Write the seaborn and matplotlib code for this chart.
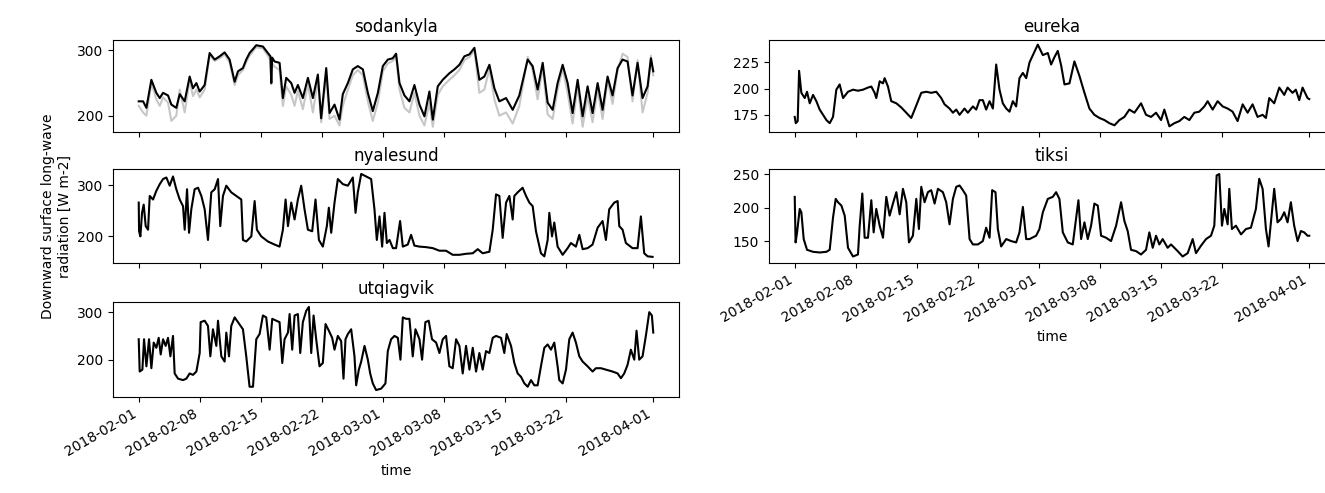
import matplotlib
matplotlib.use("Agg")
import matplotlib.pyplot as plt
import matplotlib.dates as mdates
import pandas as pd
import seaborn as sns

START = pd.Timestamp("2018-02-01")

# days since 2018-02-01 00:00 and downward long-wave radiation [W m-2]
sodankyla_days = [0.0, 0.50, 0.88, 1.45, 2.02, 2.41, 2.79, 3.36, 3.74, 4.31, 4.70, 5.27, 5.84, 6.22, 6.61, 6.99,
                  7.56, 8.13, 8.71, 9.28, 9.85, 10.42, 11.00, 11.38, 11.95, 12.33, 12.71, 13.48, 14.24, 14.81,
                  15.10, 15.20, 15.30, 15.58, 16.15, 16.53, 16.91, 17.49, 17.87, 18.25, 18.82, 19.40, 19.97,
                  20.54, 20.92, 21.50, 21.88, 22.45, 23.02, 23.40, 23.98, 24.55, 25.12, 25.70, 26.27, 26.84,
                  27.42, 27.99, 28.56, 29.13, 29.51, 29.90, 30.47, 31.04, 31.61, 32.19, 32.76, 33.33, 33.72,
                  34.29, 34.86, 35.62, 36.20, 36.77, 37.34, 37.92, 38.49, 39.06, 39.63, 40.21, 40.78, 41.35,
                  42.12, 42.88, 43.64, 44.60, 45.17, 45.74, 46.32, 46.89, 47.46, 48.03, 48.61, 49.18, 49.75,
                  50.33, 50.90, 51.47, 52.04, 52.62, 53.19, 53.76, 54.33, 54.91, 55.48, 56.05, 56.62, 57.20,
                  57.77, 58.35, 58.73, 59.00]
sodankyla_lw = [222, 222, 212, 255, 235, 227, 235, 231, 217, 212, 233, 222, 260, 242, 250, 237,
                247, 296, 286, 291, 297, 286, 252, 268, 273, 286, 296, 308, 306, 296,
                291, 250, 289, 283, 281, 227, 258, 250, 235, 247, 227, 258, 227,
                263, 196, 273, 204, 217, 194, 233, 250, 271, 276, 271, 235, 207,
                235, 276, 286, 288, 295, 250, 231, 222, 247, 217, 199, 237, 194,
                245, 255, 265, 271, 278, 291, 294, 304, 255, 260, 278, 242, 222,
                227, 209, 231, 286, 276, 240, 281, 220, 209, 250, 278, 250, 204,
                255, 199, 245, 204, 250, 209, 260, 231, 273, 286, 283, 231, 281,
                227, 245, 288, 268]
sodankyla_grey = [215, 205, 200, 250, 225, 215, 228, 220, 192, 200, 240, 205, 255, 230, 240, 228,
                  240, 292, 284, 288, 294, 282, 247, 262, 270, 282, 292, 305, 303, 292,
                  285, 248, 280, 275, 270, 215, 245, 232, 215, 238, 210, 248, 205,
                  255, 190, 262, 195, 200, 185, 215, 240, 262, 270, 262, 222, 192,
                  220, 268, 280, 284, 290, 240, 212, 205, 235, 200, 185, 220, 183,
                  232, 245, 255, 262, 270, 285, 290, 300, 235, 240, 272, 225, 200,
                  205, 188, 215, 290, 270, 225, 275, 202, 195, 240, 272, 235, 188,
                  245, 183, 230, 190, 240, 195, 255, 218, 270, 295, 290, 222, 285,
                  205, 235, 292, 262]

eureka_days = [0.0, 0.12, 0.34, 0.50, 0.76, 1.15, 1.41, 1.72, 2.10, 2.48, 2.86, 3.25, 3.63, 4.01, 4.39, 4.77,
               5.15, 5.54, 6.11, 6.68, 7.25, 7.83, 8.40, 8.78, 9.16, 9.35, 9.74, 10.12, 10.31, 10.69, 11.07,
               11.65, 12.22, 12.79, 13.36, 13.75, 14.13, 14.51, 15.08, 15.65, 16.23, 16.80, 17.18, 17.75,
               18.14, 18.52, 18.90, 19.47, 19.85, 20.43, 20.81, 21.19, 21.57, 21.95, 22.34, 22.72, 23.10,
               23.48, 23.86, 24.25, 24.63, 25.01, 25.39, 25.77, 26.16, 26.54, 26.92, 27.87, 28.45, 29.02,
               29.40, 29.78, 30.16, 30.55, 30.93, 31.50, 32.07, 32.65, 33.22, 33.79, 34.36, 34.94, 35.51,
               36.08, 36.66, 37.23, 37.80, 38.37, 38.95, 39.71, 40.28, 40.86, 41.43, 42.00, 42.38, 42.96,
               43.53, 44.10, 44.67, 45.25, 45.82, 46.39, 46.97, 47.35, 47.92, 48.49, 49.07, 49.64, 50.21,
               50.78, 51.36, 51.93, 52.50, 53.07, 53.65, 54.03, 54.41, 54.98, 55.56, 56.13, 56.51, 57.08,
               57.46, 57.85, 58.23, 58.80, 59.00]
eureka_lw = [173, 167, 169, 217, 196, 191, 197, 186, 194, 188, 180, 175, 170, 167, 173, 199,
             204, 191, 197, 199, 198, 199, 201, 202, 196, 191, 207, 205, 210, 202, 188,
             186, 182, 177, 172, 180, 188, 196, 197, 196, 197, 191, 185, 181,
             177, 180, 175, 181, 177, 183, 180, 189, 189, 180, 188, 181, 223,
             199, 186, 181, 178, 188, 183, 210, 215, 210, 225, 242, 232, 234,
             223, 230, 236, 222, 204, 205, 226, 212, 196, 181, 175, 172, 170,
             167, 165, 170, 173, 180, 177, 186, 175, 173, 177, 170, 180, 164,
             167, 169, 173, 170, 177, 178, 183, 188, 180, 188, 183, 181, 178,
             169, 185, 177, 185, 173, 175, 172, 191, 186, 201, 194, 201, 196,
             199, 189, 201, 191, 190]

nyalesund_days = [0.0, 0.04, 0.19, 0.38, 0.57, 0.80, 1.07, 1.26, 1.64, 2.02, 2.41, 2.79, 3.17, 3.55, 3.93, 4.31,
                  4.70, 5.08, 5.27, 5.54, 5.77, 6.03, 6.41, 6.80, 7.18, 7.56, 7.94, 8.32, 8.71, 9.09, 9.35,
                  9.66, 10.04, 10.61, 11.19, 11.76, 11.95, 12.33, 12.91, 13.29, 13.55, 14.05, 14.81, 15.58,
                  16.15, 16.53, 16.84, 17.11, 17.49, 17.87, 18.25, 18.63, 19.01, 19.40, 19.89, 20.27, 20.66,
                  21.11, 21.57, 21.80, 22.07, 22.45, 22.83, 23.41, 23.98, 24.55, 24.86, 25.12, 25.51, 26.08,
                  26.65, 27.03, 27.30, 27.61, 27.91, 28.18, 28.45, 28.76, 29.14, 29.51, 29.97, 30.28, 30.85,
                  31.23, 31.61, 32.19, 32.95, 33.72, 34.48, 35.24, 36.00, 36.77, 37.53, 38.30, 38.87, 39.44,
                  40.21, 40.59, 40.97, 41.35, 41.73, 42.12, 42.50, 42.88, 43.07, 43.45, 44.02, 44.41, 44.79,
                  45.17, 45.55, 46.12, 46.51, 46.89, 47.08, 47.39, 47.65, 48.03, 48.61, 49.18, 49.56, 50.13,
                  50.52, 50.90, 51.47, 52.04, 52.62, 53.19, 53.57, 53.95, 54.53, 54.91, 55.10, 55.48, 55.86,
                  56.62, 57.20, 57.58, 57.96, 58.35, 58.92]
nyalesund_lw = [266, 210, 200, 246, 262, 220, 213, 279, 272, 289, 302, 312, 315, 299, 317, 292,
                272, 259, 213, 292, 207, 253, 292, 295, 279, 253, 193, 286, 292, 312, 220,
                279, 299, 286, 279, 272, 193, 190, 200, 269, 213, 200, 190, 184,
                180, 213, 272, 220, 266, 233, 272, 299, 253, 213, 210, 272, 193,
                180, 220, 256, 207, 266, 312, 302, 299, 315, 246, 286, 322, 317,
                312, 253, 193, 239, 180, 246, 187, 193, 177, 177, 230, 180, 184,
                203, 182, 180, 179, 177, 172, 172, 164, 164, 166, 167, 175, 167,
                170, 213, 282, 279, 197, 266, 279, 233, 279, 286, 295, 279, 266,
                259, 210, 167, 161, 193, 246, 200, 227, 180, 164, 177, 187, 180,
                203, 175, 177, 184, 217, 230, 193, 253, 266, 269, 220, 213, 187,
                177, 177, 239, 167, 161, 160]

tiksi_days = [0.0, 0.10, 0.27, 0.57, 0.76, 1.03, 1.41, 2.10, 2.86, 3.63, 4.01, 4.39, 4.70, 4.96, 5.35, 5.73,
              6.11, 6.68, 7.25, 7.45, 7.75, 8.02, 8.40, 8.78, 9.05, 9.35, 9.74, 10.12, 10.50, 10.88, 11.26,
              11.65, 12.03, 12.41, 12.79, 13.10, 13.55, 13.94, 14.24, 14.51, 14.89, 15.27, 15.65, 16.04,
              16.42, 16.99, 17.37, 17.75, 18.14, 18.52, 18.90, 19.28, 19.66, 20.05, 20.43, 21.00, 21.57,
              21.95, 22.34, 22.64, 23.02, 23.29, 23.67, 24.25, 24.82, 25.39, 25.77, 26.16, 26.54, 26.92,
              27.68, 28.06, 28.45, 29.02, 29.59, 29.97, 30.35, 30.74, 31.31, 31.88, 32.26, 32.53, 32.84,
              33.22, 33.60, 33.98, 34.36, 34.75, 35.13, 35.70, 36.27, 36.85, 37.42, 37.80, 38.18, 38.56,
              39.14, 39.71, 40.28, 40.66, 41.05, 41.43, 41.81, 42.19, 42.76, 43.15, 43.53, 43.91, 44.48,
              45.06, 45.63, 46.01, 46.58, 47.16, 47.73, 48.11, 48.38, 48.68, 48.99, 49.26, 49.64, 49.83,
              50.13, 50.59, 51.17, 51.74, 52.31, 52.88, 53.26, 53.65, 54.03, 54.33, 54.60, 54.98, 55.36,
              55.75, 56.13, 56.51, 56.89, 57.27, 57.66, 58.04, 58.42, 58.80, 59.00]
tiksi_lw = [216, 148, 163, 198, 193, 153, 137, 134, 133, 134, 137, 185, 213, 208, 203, 188,
            140, 127, 130, 173, 221, 155, 155, 211, 163, 198, 173, 155, 216, 188, 206,
            223, 190, 228, 208, 148, 158, 213, 168, 231, 208, 223, 226, 206,
            228, 223, 208, 175, 213, 231, 233, 226, 218, 153, 145, 145, 150,
            170, 155, 226, 223, 168, 142, 153, 150, 148, 163, 201, 153, 153,
            158, 168, 193, 213, 216, 223, 213, 163, 148, 145, 183, 211, 153,
            178, 153, 173, 206, 203, 158, 155, 150, 173, 208, 180, 165, 137,
            135, 130, 137, 163, 140, 158, 145, 153, 140, 145, 140, 135, 127,
            132, 153, 132, 143, 153, 158, 173, 248, 250, 173, 198, 175, 228,
            168, 173, 160, 168, 170, 198, 243, 228, 168, 142, 178, 228, 178,
            183, 193, 178, 208, 173, 150, 165, 163, 158, 158]

utqiagvik_days = [0.0, 0.11, 0.42, 0.61, 0.88, 1.18, 1.45, 1.72, 2.02, 2.29, 2.52, 2.79, 3.09, 3.36, 3.63, 3.93,
                  4.12, 4.51, 5.08, 5.46, 5.84, 6.22, 6.61, 6.99, 7.10, 7.56, 7.94, 8.21, 8.51, 8.90, 9.09,
                  9.47, 9.85, 10.04, 10.35, 10.61, 11.00, 11.38, 11.95, 12.33, 12.71, 13.10, 13.48, 13.86,
                  14.24, 14.62, 15.01, 15.31, 15.77, 16.15, 16.46, 16.72, 17.11, 17.30, 17.60, 17.87, 18.25,
                  18.52, 18.82, 19.21, 19.51, 19.78, 20.05, 20.35, 20.73, 21.11, 21.42, 21.80, 22.18, 22.45,
                  22.83, 23.21, 23.48, 23.71, 23.98, 24.36, 24.74, 24.93, 25.24, 25.51, 25.89, 26.27, 26.54,
                  26.84, 27.22, 27.80, 28.29, 28.56, 28.94, 29.32, 29.71, 30.01, 30.28, 30.66, 31.04, 31.42,
                  31.73, 32.19, 32.49, 32.87, 33.25, 33.63, 34.10, 34.48, 34.86, 35.24, 35.62, 36.00, 36.39,
                  36.77, 37.15, 37.53, 37.92, 38.30, 38.68, 39.06, 39.44, 39.82, 40.21, 40.59, 40.97, 41.54,
                  41.92, 42.19, 42.69, 43.07, 43.45, 43.83, 44.22, 44.60, 44.98, 45.36, 45.74, 46.12, 46.51,
                  46.89, 47.27, 47.65, 48.03, 48.22, 48.61, 48.99, 49.37, 49.75, 50.13, 50.52, 50.90, 51.47,
                  52.04, 52.42, 53.00, 53.57, 54.33, 54.91, 55.29, 55.67, 56.05, 56.43, 56.82, 57.08, 57.39,
                  57.77, 58.15, 58.54, 58.84, 59.00]
utqiagvik_lw = [243, 175, 179, 243, 186, 243, 182, 236, 225, 246, 211, 243, 229, 246, 207, 250,
                171, 160, 157, 160, 171, 168, 175, 214, 279, 282, 271, 207, 264, 229, 282,
                207, 196, 257, 207, 271, 289, 279, 264, 207, 143, 143, 243, 254,
                293, 289, 221, 286, 282, 279, 193, 243, 257, 296, 221, 293, 296,
                214, 279, 303, 311, 214, 293, 243, 186, 193, 275, 261, 246, 221,
                250, 239, 160, 243, 254, 264, 207, 146, 179, 196, 229, 200, 171,
                150, 136, 139, 150, 218, 243, 250, 246, 200, 289, 286, 286, 207,
                264, 243, 200, 279, 282, 243, 236, 214, 243, 250, 186, 182, 243,
                229, 171, 229, 179, 225, 175, 214, 179, 218, 214, 246, 250, 246,
                214, 254, 229, 193, 171, 164, 150, 143, 157, 146, 146, 186, 225,
                232, 221, 236, 186, 157, 150, 179, 243, 257, 236, 207, 196, 186,
                175, 182, 182, 179, 175, 171, 161, 171, 189, 221, 200, 261, 200,
                207, 250, 300, 293, 257]

stations = ["sodankyla", "eureka", "nyalesund", "tiksi", "utqiagvik"]
y_limits = {"sodankyla": (175, 316), "eureka": (158.6, 246.4), "nyalesund": (148, 331.6),
            "tiksi": (117.3, 257.6), "utqiagvik": (121.4, 321.4)}
y_ticks = {"sodankyla": [200, 300], "eureka": [175, 200, 225], "nyalesund": [200, 300],
           "tiksi": [150, 200, 250], "utqiagvik": [200, 300]}
x_ticks = ["2018-02-01", "2018-02-08", "2018-02-15", "2018-02-22", "2018-03-01",
           "2018-03-08", "2018-03-15", "2018-03-22", "2018-04-01"]


def to_frame(days, values):
    return pd.DataFrame({"time": START + pd.to_timedelta(days, unit="D"), "lw": values})


series = {
    "sodankyla": to_frame(sodankyla_days, sodankyla_lw),
    "eureka": to_frame(eureka_days, eureka_lw),
    "nyalesund": to_frame(nyalesund_days, nyalesund_lw),
    "tiksi": to_frame(tiksi_days, tiksi_lw),
    "utqiagvik": to_frame(utqiagvik_days, utqiagvik_lw),
}
grey_frame = to_frame(sodankyla_days, sodankyla_grey)

fig = plt.figure(figsize=(13.25, 4.93), dpi=100)
W, H = 1325, 493
# (left, top, bottom) in pixels; the right column runs past the figure edge like the original
boxes = {
    "sodankyla": (113, 40, 132),
    "eureka": (769, 40, 132),
    "nyalesund": (113, 169, 263),
    "tiksi": (769, 169, 263),
    "utqiagvik": (113, 302, 397),
}
ax_w = 566

xmin = START - pd.Timedelta(days=2.95)
xmax = START + pd.Timedelta(days=61.95)

for name in stations:
    left, top, bottom = boxes[name]
    ax = fig.add_axes([left / W, 1 - bottom / H, ax_w / W, (bottom - top) / H])
    if name == "sodankyla":
        sns.lineplot(data=grey_frame, x="time", y="lw", color="0.78", linewidth=1.5,
                     estimator=None, ax=ax)
    sns.lineplot(data=series[name], x="time", y="lw", color="black", linewidth=1.5,
                 estimator=None, ax=ax)
    ax.set_title(name)
    ax.set_xlim(xmin, xmax)
    ax.set_ylim(*y_limits[name])
    ax.set_yticks(y_ticks[name])
    ax.set_xticks(pd.to_datetime(x_ticks))
    ax.xaxis.set_major_formatter(mdates.DateFormatter("%Y-%m-%d"))
    ax.set_ylabel("")
    if name in ("utqiagvik", "tiksi"):
        ax.set_xlabel("time")
        for lab in ax.get_xticklabels():
            lab.set_rotation(30)
            lab.set_ha("right")
    else:
        ax.set_xlabel("")
        ax.tick_params(axis="x", labelbottom=False)
    if name == "nyalesund":
        ax.set_ylabel("Downward surface long-wave\nradiation [W m-2]")

fig.savefig("out.png", dpi=100)
plt.close(fig)
